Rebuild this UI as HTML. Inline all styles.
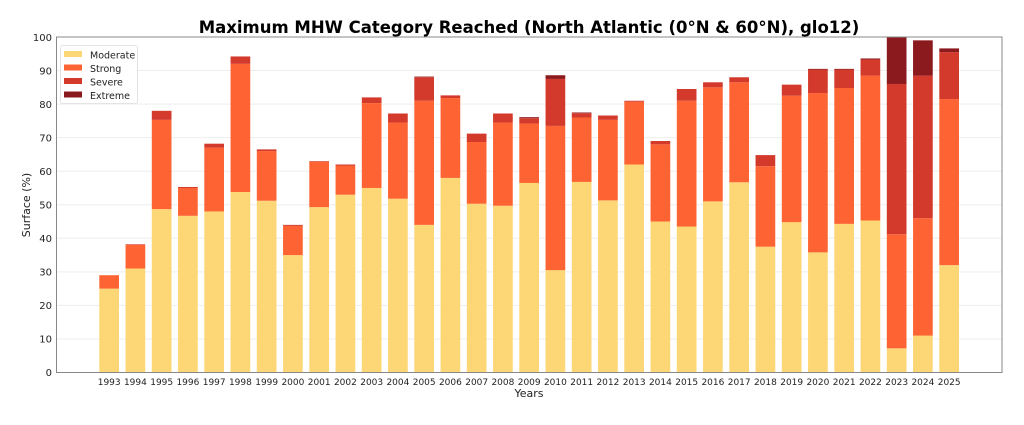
<!DOCTYPE html>
<html><head><meta charset="utf-8"><style>
body{margin:0;background:#fff;width:1024px;height:420px;overflow:hidden}
svg{font-family:"DejaVu Sans","Liberation Sans",sans-serif}
</style></head><body>
<svg id="s" width="1024" height="420" xmlns="http://www.w3.org/2000/svg">
<g id="grid" stroke="#eeeeee" stroke-width="1"></g>
<g id="bars"></g>
<rect x="56.5" y="37" width="945.5" height="335.5" fill="none" stroke="#888" stroke-width="1"/>
<text x="529" y="33" text-anchor="middle" font-size="16.5" font-weight="bold" fill="#000">Maximum MHW Category Reached (North Atlantic (0°N &amp; 60°N), glo12)</text>
<g font-size="10" fill="#222" text-anchor="end">
<text x="52" y="376">0</text><text x="52" y="342.5">10</text><text x="52" y="309">20</text><text x="52" y="275.5">30</text><text x="52" y="242">40</text><text x="52" y="208.5">50</text><text x="52" y="175">60</text><text x="52" y="141.5">70</text><text x="52" y="108">80</text><text x="52" y="74.5">90</text><text x="52" y="41">100</text>
</g>
<text transform="translate(30,205) rotate(-90)" text-anchor="middle" font-size="11" fill="#222">Surface (%)</text>
<text x="529" y="397" text-anchor="middle" font-size="11" fill="#222">Years</text>
<g id="xl" font-size="9" fill="#222" text-anchor="middle">
<text x="109.2" y="385">1993</text><text x="135.4" y="385">1994</text><text x="161.7" y="385">1995</text><text x="187.9" y="385">1996</text><text x="214.2" y="385">1997</text><text x="240.4" y="385">1998</text><text x="266.7" y="385">1999</text><text x="292.9" y="385">2000</text><text x="319.2" y="385">2001</text><text x="345.4" y="385">2002</text><text x="371.7" y="385">2003</text><text x="397.9" y="385">2004</text><text x="424.2" y="385">2005</text><text x="450.4" y="385">2006</text><text x="476.7" y="385">2007</text><text x="502.9" y="385">2008</text><text x="529.2" y="385">2009</text><text x="555.4" y="385">2010</text><text x="581.7" y="385">2011</text><text x="607.9" y="385">2012</text><text x="634.2" y="385">2013</text><text x="660.4" y="385">2014</text><text x="686.7" y="385">2015</text><text x="712.9" y="385">2016</text><text x="739.2" y="385">2017</text><text x="765.4" y="385">2018</text><text x="791.7" y="385">2019</text><text x="817.9" y="385">2020</text><text x="844.2" y="385">2021</text><text x="870.4" y="385">2022</text><text x="896.7" y="385">2023</text><text x="922.9" y="385">2024</text><text x="949.2" y="385">2025</text>
</g>
<rect x="60.5" y="45.5" width="77" height="58" fill="#fff" fill-opacity="0.85" stroke="#ddd" stroke-width="0.8" rx="2"/>
<rect x="64" y="51" width="18" height="6" fill="#fdd775"/><text x="90" y="58.5" font-size="9.5" fill="#222">Moderate</text>
<rect x="64" y="64.5" width="18" height="6" fill="#fe6433"/><text x="90" y="72" font-size="9.5" fill="#222">Strong</text>
<rect x="64" y="78" width="18" height="6" fill="#d33a2c"/><text x="90" y="85.5" font-size="9.5" fill="#222">Severe</text>
<rect x="64" y="91.5" width="18" height="6" fill="#8b1a1f"/><text x="90" y="99" font-size="9.5" fill="#222">Extreme</text>
</svg>
<script>
var d=[[25,29,29,29],[31,38,38.2,38.2],[48.7,75.3,78,78],[46.7,55,55.3,55.3],[48,67,68.2,68.2],[53.8,92,94.2,94.2],[51.2,66,66.5,66.5],[35,43.7,44,44],[49.3,62.8,63,63],[53,61.7,62,62],[55,80.3,82,82],[51.8,74.5,77.2,77.2],[44,81,88,88.2],[58,81.8,82.6,82.6],[50.3,68.7,71.2,71.2],[49.7,74.5,77.2,77.2],[56.5,74.2,75.8,76.1],[30.5,73.5,87.5,88.6],[56.8,76,77.3,77.5],[51.3,75.3,76.6,76.6],[62,80.7,81,81],[45,68,69,69],[43.5,81,84.5,84.5],[51,85,86.5,86.5],[56.7,86.5,88,88],[37.5,61.5,64.8,64.8],[44.8,82.5,85.8,85.8],[35.8,83.3,90.3,90.5],[44.3,84.8,90.3,90.5],[45.3,88.5,93.3,93.6],[7.2,41.2,86,100],[11,46,88.5,99],[32,81.5,95.5,96.6]];
var c=["#fdd775","#fe6433","#d33a2c","#8b1a1f"],ns="http://www.w3.org/2000/svg";
function Y(v){return 372.5-v*3.355}
var g=document.getElementById("grid");
for(var k=1;k<10;k++){var l=document.createElementNS(ns,"line");l.setAttribute("x1",56.5);l.setAttribute("x2",1002);l.setAttribute("y1",Y(k*10));l.setAttribute("y2",Y(k*10));g.appendChild(l);}
var b=document.getElementById("bars");
d.forEach(function(r,i){var x=99.3+i*26.25,p=0;r.forEach(function(v,j){if(v>p){var e=document.createElementNS(ns,"rect");e.setAttribute("x",x);e.setAttribute("width",19.7);e.setAttribute("y",Y(v));e.setAttribute("height",Y(p)-Y(v));e.setAttribute("fill",c[j]);b.appendChild(e);}p=v;});});
</script>
</body></html>
